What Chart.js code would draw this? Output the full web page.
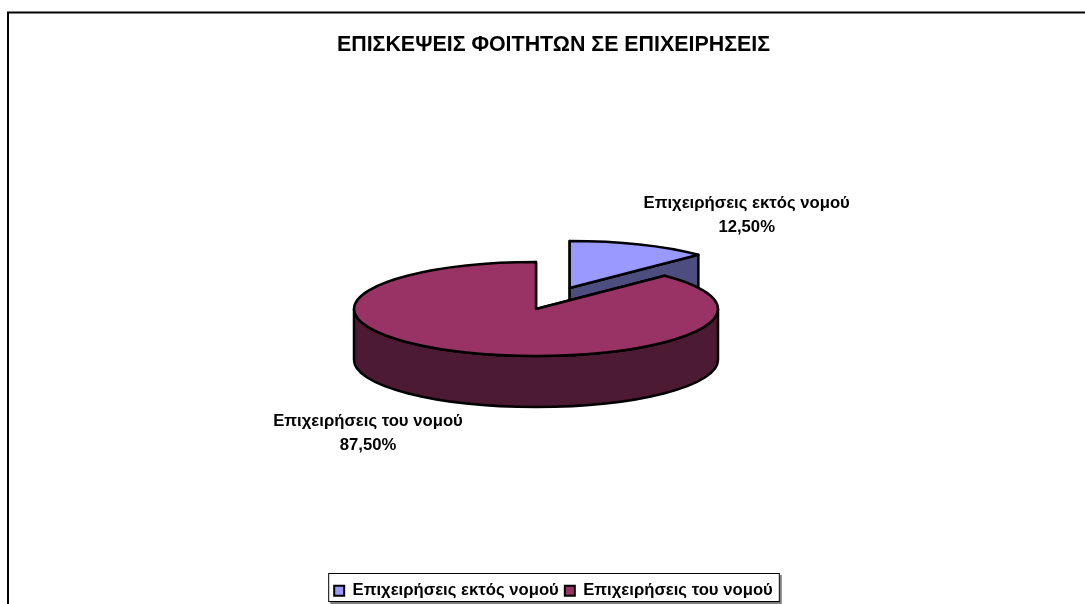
<!DOCTYPE html>
<html lang="el">
<head>
<meta charset="UTF-8">
<title>Επισκέψεις φοιτητών σε επιχειρήσεις</title>
<script src="https://cdn.jsdelivr.net/npm/chart.js@4/dist/chart.umd.min.js"></script>
<style>
    html, body { margin: 0; padding: 0; background: #ffffff; overflow: hidden; }
    #wrap { position: relative; width: 1107px; height: 609px; }
</style>
</head>
<body>
<div id="wrap"><canvas id="chart_canvas"></canvas></div>
<script>
    var categories = ["Επιχειρήσεις εκτός νομού", "Επιχειρήσεις του νομού"];
    var percentages = [12.5, 87.5];
    var topColors = ["#9999ff", "#993366"];
    var sideColors = ["#4d4d80", "#4d1a33"];
    var chartTitle = "ΕΠΙΣΚΕΨΕΙΣ ΦΟΙΤΗΤΩΝ ΣΕ ΕΠΙΧΕΙΡΗΣΕΙΣ";

    var FONT = '"Liberation Sans", Arial, sans-serif';
    var SQUASH = 0.258;     // pie tilt: ellipse height / width
    var DEPTH = 51;         // height of the pie wall in px
    var PIE_X = 536;
    var PIE_Y = 309;
    var EDGE = 2.5;
    var EXPLODE = [88, 0];  // pull-out of each slice, before the tilt
    var LABEL_SHIFT = [[177, -73], [-168, 124]];  // label centre, from slice apex

    function percentText(value) {
        return value.toFixed(2).replace(".", ",") + "%";
    }

    // walls first, then the library's own arc for the top face
    function drawSlice(ctx, chart, arc, i) {
        var p = arc.getProps(["x", "y", "startAngle", "endAngle", "outerRadius"], true);
        var mid = (p.startAngle + p.endAngle) / 2;
        var ax = PIE_X + Math.cos(mid) * EXPLODE[i];
        var ay = PIE_Y + Math.sin(mid) * EXPLODE[i] * SQUASH;
        var r = p.outerRadius;
        var down = DEPTH / SQUASH;

        function tilt() {
            ctx.translate(ax, ay);
            ctx.scale(1, SQUASH);
        }
        function paint(fill) {
            ctx.fillStyle = fill;
            ctx.fill();
            ctx.lineWidth = EDGE;
            ctx.strokeStyle = "#000000";
            ctx.lineJoin = "round";
            ctx.stroke();
        }

        // flat cut faces
        [p.startAngle, p.endAngle].forEach(function (a) {
            ctx.save();
            tilt();
            ctx.beginPath();
            ctx.moveTo(0, 0);
            ctx.lineTo(Math.cos(a) * r, Math.sin(a) * r);
            ctx.lineTo(Math.cos(a) * r, Math.sin(a) * r + down);
            ctx.lineTo(0, down);
            ctx.closePath();
            ctx.restore();
            paint(sideColors[i]);
        });

        // outer wall, only the part that faces the viewer
        var from = Math.max(p.startAngle, 0);
        var to = Math.min(p.endAngle, Math.PI);
        if (to > from) {
            ctx.save();
            tilt();
            ctx.beginPath();
            ctx.arc(0, 0, r, from, to);
            ctx.arc(0, down, r, to, from, true);
            ctx.closePath();
            ctx.restore();
            paint(sideColors[i]);
        }

        // top face
        ctx.save();
        tilt();
        ctx.translate(-p.x, -p.y);
        arc.draw(ctx, chart.chartArea);
        ctx.restore();

        ctx.save();
        tilt();
        ctx.beginPath();
        ctx.moveTo(0, 0);
        ctx.arc(0, 0, r, p.startAngle, p.endAngle);
        ctx.closePath();
        ctx.restore();
        ctx.lineWidth = EDGE;
        ctx.strokeStyle = "#000000";
        ctx.lineJoin = "round";
        ctx.stroke();

        // data label
        ctx.fillStyle = "#000000";
        ctx.font = "bold 16.7px " + FONT;
        ctx.textAlign = "center";
        ctx.textBaseline = "middle";
        var lx = ax + LABEL_SHIFT[i][0];
        var ly = ay + LABEL_SHIFT[i][1];
        ctx.fillText(categories[i], lx, ly - 12);
        ctx.fillText(percentText(percentages[i]), lx, ly + 12);
    }

    var pie3d = {
        id: "pie3d",
        beforeDatasetsDraw: function (chart) {
            var ctx = chart.ctx;
            chart.getDatasetMeta(0).data.forEach(function (arc, i) {
                drawSlice(ctx, chart, arc, i);
            });
            return false;
        }
    };

    // page frame and the box round the legend
    var frames = {
        id: "frames",
        beforeDraw: function (chart) {
            var ctx = chart.ctx;
            ctx.save();
            ctx.strokeStyle = "#000000";
            ctx.lineWidth = 2;
            ctx.beginPath();
            ctx.moveTo(8, chart.height);
            ctx.lineTo(8, 12.5);
            ctx.lineTo(chart.width, 12.5);
            ctx.stroke();

            var hits = chart.legend.legendHitBoxes;
            var last = hits[hits.length - 1];
            var x0 = hits[0].left - 6;
            var x1 = last.left + last.width + 7;
            var y0 = 573;
            ctx.fillStyle = "#808080";
            ctx.fillRect(x0 + 2, y0 + 2, x1 - x0, 29);
            ctx.fillStyle = "#ffffff";
            ctx.fillRect(x0, y0, x1 - x0, 28);
            ctx.lineWidth = 1;
            ctx.strokeRect(x0 + 0.5, y0 + 0.5, x1 - x0 - 1, 28);
            ctx.restore();
        }
    };

    new Chart(document.getElementById("chart_canvas"), {
        type: "pie",
        plugins: [frames, pie3d],
        data: {
            labels: categories,
            datasets: [{
                data: percentages,
                backgroundColor: topColors,
                borderWidth: 0
            }]
        },
        options: {
            responsive: true,
            maintainAspectRatio: false,
            animation: false,
            radius: 182,
            layout: { padding: { top: 0, bottom: 0 } },
            plugins: {
                tooltip: { enabled: false },
                title: {
                    display: true,
                    text: chartTitle,
                    color: "#000000",
                    font: { family: FONT, size: 21.4, weight: "bold" },
                    padding: { top: 32, bottom: 10 }
                },
                legend: {
                    display: true,
                    position: "bottom",
                    labels: {
                        boxWidth: 10,
                        boxHeight: 10,
                        color: "#000000",
                        padding: 6,
                        font: { family: FONT, size: 16.7, weight: "bold" },
                        generateLabels: function (chart) {
                            return categories.map(function (name, i) {
                                return {
                                    text: name,
                                    fillStyle: topColors[i],
                                    strokeStyle: "#000000",
                                    lineWidth: 2,
                                    index: i
                                };
                            });
                        }
                    }
                }
            }
        }
    });
</script>
</body>
</html>
